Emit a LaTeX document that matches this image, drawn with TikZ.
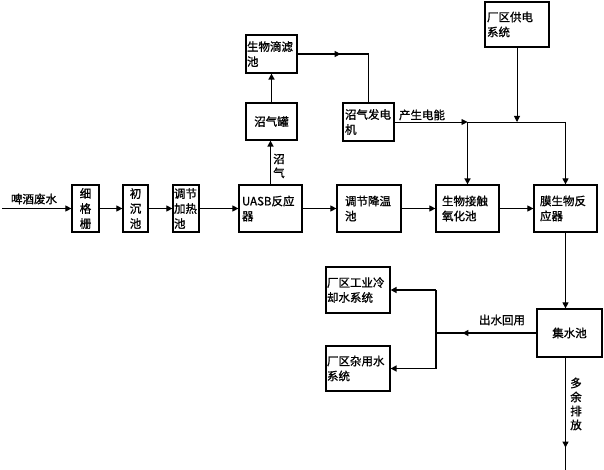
\documentclass[tikz,border=0pt]{standalone}
\usepackage{fontspec}
\setmainfont{Noto Sans CJK SC}[FakeBold=1.2]
\usetikzlibrary{arrows.meta,calc}
\begin{document}
\begin{tikzpicture}[x=1pt,y=-1pt,
  box/.style={draw,line width=1.2pt,rectangle,inner sep=0pt,font=\fontsize{11.5}{15}\selectfont},
  flow/.style={line width=0.9pt},
  heavy/.style={line width=1.6pt},
  tip/.style={-{Triangle[length=6pt,width=6pt]}},
  lbl/.style={font=\fontsize{11.5}{14}\selectfont,inner sep=0pt}]
\useasboundingbox (0,0) rectangle (604,470);
% main row
\node[box,minimum width=27pt,minimum height=47pt,text width=20pt,align=center] (xgs) at (85.5,208.5) {细\\格\\栅};
\node[box,minimum width=25pt,minimum height=47pt,text width=20pt,align=center] (ccc) at (135.5,208.5) {初\\沉\\池};
\node[box,minimum width=26pt,minimum height=47pt,text width=24pt,align=left] (tjr) at (186,208.5) {调节\\加热\\池};
\node[box,minimum width=63pt,minimum height=47pt,text width=57pt,align=left] (uasb) at (270.5,208.5) {UASB反应\\器};
\node[box,minimum width=64pt,minimum height=47pt,text width=48pt,align=left] (tjc) at (369,208.5) {调节降温\\池};
\node[box,minimum width=63pt,minimum height=47pt,text width=51pt,align=left] (swjc) at (467.5,208.5) {生物接触\\氧化池};
\node[box,minimum width=63pt,minimum height=47pt,text width=51pt,align=left] (mbr) at (565.5,208.5) {膜生物反\\应器};
% upper
\node[box,minimum width=51pt,minimum height=38pt,text width=49pt,align=left] (filter) at (271.5,54) {生物滴滤\\池};
\node[box,minimum width=51pt,minimum height=37pt,align=center] (tank) at (271.5,121.5) {沼气罐};
\node[box,minimum width=51pt,minimum height=38pt,text width=47pt,align=left] (gen) at (368.5,122) {沼气发电\\机};
\node[box,minimum width=64pt,minimum height=45pt,text width=60pt,align=left] (power) at (517,24.5) {厂区供电\\系统};
% lower
\node[box,minimum width=64pt,minimum height=46pt,text width=62pt,align=left] (cool) at (358,290) {厂区工业冷\\却水系统};
\node[box,minimum width=64pt,minimum height=45pt,text width=62pt,align=left] (misc) at (358,368.5) {厂区杂用水\\系统};
\node[box,minimum width=65pt,minimum height=48pt,align=center] (pool) at (569.5,333) {集水池};
% labels
\node[lbl] (lwater) at (34,199) {啤酒废水};
\node[lbl,align=center] (lgas) at (279,166) {沼\\气};
\node[lbl] (lpower) at (422,115) {产生电能};
\node[lbl] (lreuse) at (502,320) {出水回用};
\node[lbl,align=center] (ldrain) at (576,404) {多\\余\\排\\放};
% coordinates
\coordinate (src) at (2,208.5);
\coordinate (j1) at (swjc.north |- gen.east);
\coordinate (j2) at (mbr.north |- gen.east);
\coordinate (j3) at (436,333);
\coordinate (jc) at (436,290);
\coordinate (jm) at (436,368.5);
\coordinate (out) at (565.5,470);
% main flow
\draw[flow,tip] (src) -- (xgs.west);
\draw[flow,tip] (xgs.east) -- (ccc.west);
\draw[flow,tip] (ccc.east) -- (tjr.west);
\draw[flow,tip] (tjr.east) -- (uasb.west);
\draw[flow,tip] (uasb.east) -- (tjc.west);
\draw[flow,tip] (tjc.east) -- (swjc.west);
\draw[flow,tip] (swjc.east) -- (mbr.west);
% biogas
\draw[heavy,tip] (uasb.north) -- (uasb.north |- tank.south);
\draw[heavy,tip] (tank.north) -- (filter.south);
\draw[heavy] (filter.east) -| (gen.north);
\draw[heavy,tip] (filter.east) -- ++(43,0);
% power
\draw[flow,tip] (gen.east) -- (j1);
\draw[flow] (j1) -- (j2);
\draw[heavy,tip] (j1) -- (swjc.north);
\draw[flow,tip] (j2) -- (mbr.north);
\draw[flow,tip] (power.south) -- (power.south |- j1);
% water
\draw[flow,tip] (mbr.south) -- (mbr.south |- pool.north);
\draw[heavy] (pool.west) -- (j3);
\draw[heavy,tip] (pool.west) -- ++(-74,0);
\draw[heavy] (jc) -- (jm);
\draw[heavy,tip] (jc) -- (cool.east);
\draw[heavy,tip] (jm) -- (misc.east);
\draw[flow] (mbr.south |- pool.south) -- (out);
\draw[flow,tip] (mbr.south |- pool.south) -- ++(0,90);
\end{tikzpicture}
\end{document}
